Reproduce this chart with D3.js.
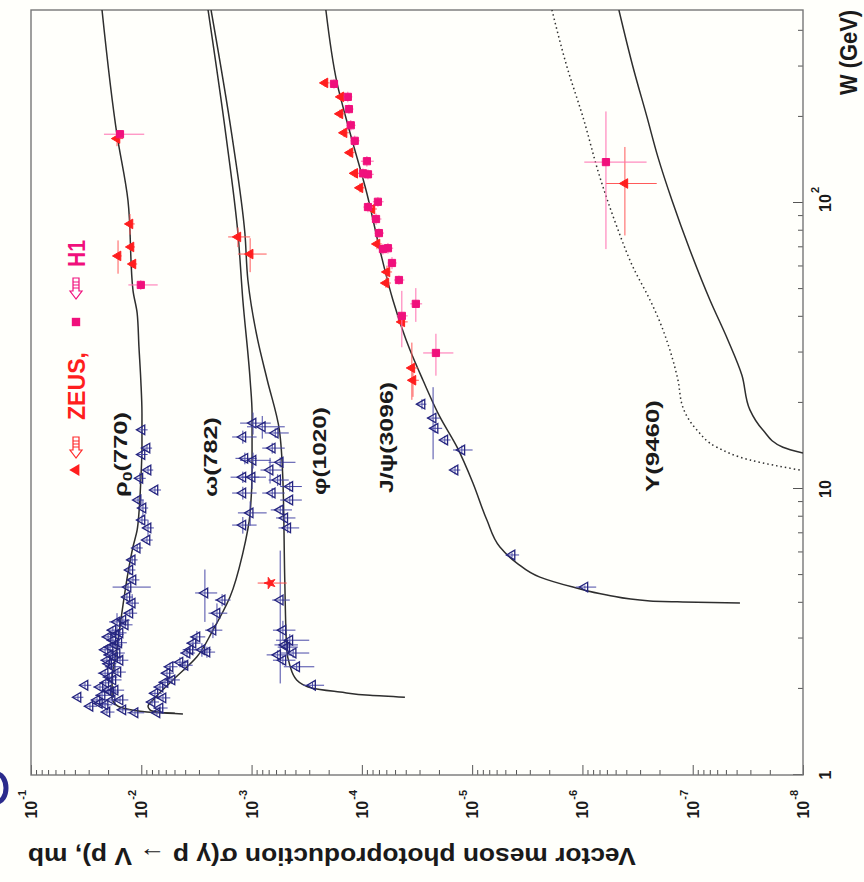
<!DOCTYPE html>
<html><head><meta charset="utf-8">
<script src="https://cdn.jsdelivr.net/npm/d3@7"></script>
<style>body{margin:0;background:#fff}</style></head>
<body><svg id="c" width="864" height="882"></svg>
<script>
// ---------------- data (W in GeV, sigma in mb) ----------------
const wDomain = [1, 473];
const sDomain = [1e-1, 1e-8];
const sMajor = [1e-1,1e-2,1e-3,1e-4,1e-5,1e-6,1e-7,1e-8];
const wMajor = [1, 10, 100];
const sigmaExp = ["-1","-2","-3","-4","-5","-6","-7","-8"];
const curveLabels = ["ρ","ω(782)","φ(1020)","J/ψ(3096)","Υ(9460)"];

const rhoCurve = [[473,0.0227],[173,0.0166],[102,0.0132],[49.6,0.0119],[41.2,0.0109],[31.4,0.0105],[24.0,0.0101],[18.4,0.00986],[14.0,0.00986],[10.75,0.0101],[8.25,0.0105],[7.19,0.0109],[6.27,0.0119],[5.09,0.0132],[3.69,0.0150],[2.80,0.0166],[2.15,0.0184],[1.86,0.0184],[1.74,0.0163],[1.715,0.0147],[1.66,0.00888],[1.645,0.00496]];
const omegaCurve = [[473,0.00248],[173,0.00171],[78.5,0.00133],[45.8,0.00120],[24.0,0.00103],[18.4,0.00099],[11.65,0.00099],[8.25,0.00103],[5.97,0.00120],[4.19,0.00157],[3.21,0.00224],[2.59,0.00313],[2.15,0.00516],[1.83,0.00783],[1.74,0.00869],[1.69,0.00834],[1.655,0.00677],[1.634,0.00419]];
const phiCurve = [[473,0.00233],[173,0.00151],[78.5,0.00115],[53.8,0.00108],[33.2,0.00088],[24.0,0.00072],[16.1,0.00056],[10.75,0.00052],[4.81,0.00050],[2.74,0.00048],[2.42,0.00045],[2.15,0.00039],[2.01,0.00028],[1.95,0.000158],[1.90,8.45e-5],[1.87,4.07e-5]];
const jpsiCurve = [[473,2.12e-4],[263,1.68e-4],[176,1.28e-4],[108,9.0e-5],[68.5,6.86e-5],[45.8,5.23e-5],[30.6,3.66e-5],[24.0,2.79e-5],[17.86,1.96e-5],[14.0,1.37e-5],[10.5,9.84e-6],[7.79,7.35e-6],[6.27,5.6e-6],[5.51,3.93e-6],[4.92,2.43e-6],[4.54,1.22e-6],[4.26,6.0e-7],[4.06,2.44e-7],[4.03,1.23e-7],[3.995,3.73e-8]];
const upsDotted = [[473,1.89e-6],[299,1.38e-6],[200,9.9e-7],[123,6.94e-7],[82.4,4.86e-7],[59.7,3.48e-7],[45.8,2.44e-7],[39.9,2.07e-7],[30.6,1.61e-7],[24.0,1.36e-7],[19.35,1.23e-7],[16.08,9.16e-8],[14.0,6.04e-8],[12.63,3.03e-8],[11.65,1.07e-8]];
const upsSolid = [[473,4.67e-7],[299,3.48e-7],[200,2.6e-7],[145,2.07e-7],[102,1.54e-7],[68.5,1.06e-7],[45.8,6.98e-8],[33.2,4.80e-8],[25.0,3.58e-8],[18.9,3.03e-8],[16.08,2.31e-8],[14.0,1.52e-8],[13.36,1.0e-8]];

// points: [W, sigma, dW, dSigma]
const rhoLow = [[16.1,0.00986,0.5,0.0011],[13.9,0.00888,0.4,0.0009],[13.2,0.00986,0.4,0.0011],[11.65,0.00869,0.4,0.0009],[10.9,0.0103,0.5,0.0012],[9.92,0.00752,0.3,0.0009],[9.15,0.0107,0.3,0.0012],[8.58,0.00966,0.6,0.0010],[7.79,0.00986,0.3,0.0011],[7.31,0.00869,0.5,0.0010],[6.63,0.00888,0.2,0.0010],[6.22,0.0109,0.2,0.0012],[5.65,0.0121,0.2,0.0013],[5.21,0.0127,0.2,0.0014],[4.81,0.0119,0.15,0.0015],[4.54,0.0132,0.15,0.0050],[4.19,0.0135,0.15,0.0016],[3.99,0.0121,0.3,0.0016],[3.68,0.0127,0.12,0.0018],[3.48,0.0147,0.12,0.0020],[3.43,0.0166,0.25,0.0030],[3.21,0.0181,0.1,0.0025],[3.14,0.0156,0.1,0.0020],[3.04,0.0200,0.1,0.0030],[2.96,0.0181,0.1,0.0025],[2.85,0.0173,0.1,0.0025],[2.80,0.0192,0.08,0.0030],[2.74,0.0213,0.08,0.0030],[2.67,0.0166,0.08,0.0025],[2.63,0.0192,0.08,0.0030],[2.52,0.0205,0.07,0.0030],[2.52,0.0156,0.07,0.0025],[2.39,0.0184,0.06,0.0030],[2.29,0.0163,0.06,0.0025],[2.27,0.0213,0.06,0.0035],[2.15,0.0181,0.05,0.0030],[2.06,0.0324,0.04,0.0040],[2.03,0.0237,0.05,0.0035],[1.98,0.0200,0.05,0.0030],[1.98,0.0173,0.05,0.0030],[1.90,0.0227,0.04,0.0035],[1.87,0.0375,0.04,0.0040],[1.83,0.0252,0.04,0.0035],[1.83,0.0156,0.04,0.0025],[1.83,0.0184,0.04,0.0030],[1.76,0.0213,0.04,0.0030],[1.74,0.0292,0.04,0.0040],[1.69,0.0147,0.03,0.0020],[1.66,0.0205,0.03,0.0030],[1.65,0.0114,0.03,0.0020],[3.35,0.0140,0.1,0.0020],[3.10,0.0170,0.1,0.0025],[2.90,0.0160,0.1,0.0025],[2.58,0.0175,0.08,0.0025],[2.45,0.0198,0.07,0.0030],[2.20,0.0195,0.06,0.0030],[2.10,0.0210,0.05,0.0030],[1.95,0.0190,0.05,0.0030],[1.78,0.0240,0.04,0.0035]];
const omegaLow = [[17.0,0.00097,1.5,0.00030],[15.2,0.00120,0.8,0.00030],[12.8,0.00115,0.6,0.00025],[12.6,0.00097,0.8,0.00030],[11.0,0.00120,0.5,0.00035],[11.0,0.00099,1.0,0.00025],[9.68,0.00120,0.5,0.00030],[8.25,0.00103,0.8,0.00030],[7.48,0.00120,0.5,0.00030],[4.33,0.00265,0.9,0.00060],[4.09,0.00185,0.2,0.00030],[3.68,0.00206,0.3,0.00040],[3.21,0.00224,0.2,0.00040],[3.04,0.00313,0.15,0.00050],[2.89,0.00340,0.15,0.00050],[2.74,0.00282,0.15,0.00050],[2.74,0.00362,0.1,0.0006],[2.69,0.00254,0.12,0.00040],[2.67,0.00385,0.1,0.00060],[2.48,0.00446,0.1,0.0007],[2.42,0.00402,0.1,0.0006],[2.39,0.00549,0.08,0.0008],[2.27,0.00585,0.08,0.0008],[2.15,0.00527,0.07,0.0008],[2.11,0.00610,0.06,0.0009],[2.03,0.00677,0.06,0.0010],[1.93,0.00752,0.05,0.0010],[1.86,0.00636,0.05,0.0009],[1.80,0.00800,0.04,0.0011],[1.715,0.00677,0.04,0.0010],[1.65,0.00721,0.03,0.0010]];
const phiLow = [[16.5,0.00080,1.5,0.00030],[15.7,0.00061,0.6,0.00015],[13.9,0.00065,0.6,0.00015],[12.4,0.00055,0.5,0.00015],[11.65,0.00068,1.2,0.00015],[10.75,0.00058,0.5,0.00012],[10.2,0.00045,0.4,0.00010],[9.68,0.00065,0.4,0.00015],[9.15,0.00045,0.3,0.00010],[8.45,0.00055,0.3,0.00012],[7.92,0.00050,0.3,0.00010],[7.31,0.00047,0.3,0.00010],[4.09,0.00055,2.0,0.00010],[3.21,0.00052,0.25,0.00012],[2.96,0.00045,0.15,0.00015],[2.85,0.00050,0.1,0.00012],[2.80,0.00048,0.1,0.00010],[2.67,0.00042,0.1,0.00012],[2.63,0.00058,0.1,0.00015],[2.52,0.00052,0.1,0.00012],[2.39,0.00039,0.08,0.00012],[2.06,0.00028,0.05,0.00006]];
const jpsiLow = [[19.8,2.85e-5,0.8,2.5e-6],[17.7,2.26e-5,5.0,3e-6],[16.3,2.17e-5,0.6,3e-6],[14.84,1.77e-5,0.5,2e-6],[13.69,1.24e-5,0.5,2.5e-6],[11.65,1.43e-5,0.4,1.5e-6],[5.88,4.35e-6,0.1,6e-7],[4.54,9.5e-7,0.06,2e-7]];
const otherRed = [[4.69,0.00068,0.1,0.0002]];

const zeusData = [[168,0.0166,10,0.002],[84.5,0.01266,7,0.0012],[70.2,0.0124,2,0.0010],[61.2,0.0119,2,0.0010],[65.3,0.01625,8.7,0.0012],
  [76.1,0.00133,6,0.0003],[66.3,0.00103,9,0.0003],
  [263,2.16e-4,8,2e-5],[235,1.55e-4,8,1.5e-5],[205,1.58e-4,7,1.5e-5],[176,1.45e-4,6,1.4e-5],[150,1.28e-4,5,1.2e-5],[127,1.16e-4,4,1.1e-5],[113,1.04e-4,4,1e-5],[95.3,8.1e-5,3,8e-6],[71.9,7.29e-5,3,7e-6],[57.4,5.92e-5,3,6e-6],[52.5,6.05e-5,2,6e-6],[38.4,4.34e-5,2,5e-6],[26.5,3.52e-5,6,4e-6],[24.0,3.44e-5,3,4e-6],
  [117,4.12e-7,40,2.0e-7]];
const h1Data = [[174,0.0156,6,0.0062],[51.7,0.0101,2,0.003],
  [261,1.79e-4,10,1.5e-5],[235,1.34e-4,10,1.2e-5],[213,1.31e-4,8,1.2e-5],[187,1.26e-4,8,1.2e-5],[165,1.16e-4,7,1.1e-5],[140,9.0e-5,6,1.2e-5],[127,9.77e-5,5,1e-5],[126,8.8e-5,5,1e-5],[101,7.15e-5,4,8e-6],[96.8,8.8e-5,4,9e-6],[87.9,7.44e-5,4,8e-6],[78.5,7.0e-5,3,7e-6],[69.5,5.8e-5,3,6e-6],[69.0,6.44e-5,3,6e-6],[61.7,5.33e-5,3,5e-6],[53.8,4.61e-5,2,5e-6],[44.4,3.24e-5,6,4e-6],[40.3,4.34e-5,9,5e-6],[29.9,2.13e-5,5,6.5e-6],
  [139,6.12e-7,70,3.5e-7]];

// ---------------- drawing ----------------
const FONT = "'Liberation Sans', Arial, Helvetica, sans-serif";
const svg = d3.select('#c');
svg.append('rect').attr('width',864).attr('height',882).attr('fill','#fffffb');
svg.append('path').attr('d','M -3 774 A 9 14 0 0 1 -3 802').attr('stroke','#2b2b8c').attr('stroke-width',5).attr('fill','none');

const PW = 765, PH = 772;
const g = svg.append('g').attr('transform','translate(31,775) rotate(-90)');
const x = d3.scaleLog().domain(wDomain).range([0, PW]);
const y = d3.scaleLog().domain(sDomain).range([0, PH]);

svg.append('defs').append('clipPath').attr('id','clip').append('rect')
  .attr('x',0).attr('y',0).attr('width',PW).attr('height',PH);

const sMinor = []; for (let k=-8;k<=-2;k++) for (let m=2;m<=9;m++) sMinor.push(m*Math.pow(10,k));
const wMinor = []; for (let k=0;k<=2;k++) for (let m=2;m<=9;m++){ const v=m*Math.pow(10,k); if (v<wDomain[1]) wMinor.push(v); }
function styleAxis(a){ a.select('.domain').remove(); a.selectAll('line').attr('stroke','#555').attr('stroke-width',1); }
g.append('g').call(d3.axisLeft(y).tickValues(sMinor).tickSizeInner(-5).tickSizeOuter(0).tickFormat('')).call(styleAxis);
g.append('g').call(d3.axisLeft(y).tickValues(sMajor).tickSizeInner(-10).tickSizeOuter(0).tickFormat('')).call(styleAxis);
g.append('g').attr('transform',`translate(0,${PH})`).call(d3.axisBottom(x).tickValues(wMinor).tickSizeInner(-5).tickSizeOuter(0).tickFormat('')).call(styleAxis);
g.append('g').attr('transform',`translate(0,${PH})`).call(d3.axisBottom(x).tickValues(wMajor).tickSizeInner(-10).tickSizeOuter(0).tickFormat('')).call(styleAxis);

g.append('rect').attr('x',0).attr('y',0).attr('width',PW).attr('height',PH)
  .attr('fill','none').attr('stroke','#777').attr('stroke-width',1.4);

g.append('g').selectAll('text').data(sMajor).join('text')
  .attr('transform', d => `translate(-15,${y(d)+6})`)
  .attr('text-anchor','end').attr('font-family',FONT).attr('font-weight','bold')
  .attr('font-size',16).attr('fill','#1a1a1a')
  .each(function(d,i){ const t=d3.select(this);
    t.append('tspan').text('10');
    t.append('tspan').attr('dx',1).attr('dy',-11).attr('font-size',11).text(sigmaExp[i]); });

const wl = g.append('g').attr('font-family',FONT).attr('font-weight','bold').attr('fill','#1a1a1a');
wl.selectAll('text.m').data(wMajor).join('text').attr('class','m')
  .attr('x', d => x(d)).attr('y', PH+28).attr('text-anchor','middle').attr('font-size',16)
  .text(d => d===1 ? '1' : '10');
wl.append('text').attr('x', x(100)+10).attr('y', PH+16).attr('font-size',11).text('2');

function addText(parent, x0, y0, parts, opt){
  const t = parent.append('text').attr('x',0).attr('y',0)
    .attr('text-anchor', opt.anchor||'start').attr('font-family',FONT).attr('font-weight','bold')
    .attr('font-size',opt.size).attr('fill',opt.fill||'#1a1a1a');
  parts.forEach(p => { const s=t.append('tspan').text(p.t); if(p.dy) s.attr('dy',p.dy); if(p.dx) s.attr('dx',p.dx); if(p.size) s.attr('font-size',p.size); });
  let sc = 1;
  if (opt.len){ const L=t.node().getComputedTextLength(); if (L>0) sc=opt.len/L; }
  t.attr('transform',`translate(${x0},${y0})${opt.rot!==undefined?` rotate(${opt.rot})`:''} scale(${sc},1)`);
  return t;
}

addText(g, -73, -3, [{t:'Vector meson photoproduction σ(γ p → V p), mb'}], {anchor:'end', rot:-90, size:24, len:608});
addText(g, PW, 826, [{t:'W (GeV)'}], {anchor:'end', size:24, len:85});

const cg = g.append('g').attr('clip-path','url(#clip)');
const line = d3.line().x(d=>x(d[0])).y(d=>y(d[1])).curve(d3.curveMonotoneX);
const srt = a => a.slice().sort((p,q)=>p[0]-q[0]);
[rhoCurve, omegaCurve, phiCurve, jpsiCurve, upsSolid].forEach(c => {
  cg.append('path').attr('d', line(srt(c))).attr('fill','none').attr('stroke','#2e2e2e').attr('stroke-width',1.5);
});
cg.append('path').attr('d', line(srt(upsDotted))).attr('fill','none').attr('stroke','#2e2e2e')
  .attr('stroke-width',1.5).attr('stroke-dasharray','1.5,3');

const pg = g.append('g').attr('clip-path','url(#clip)');
function drawSeries(data, o){
  const s = pg.append('g');
  s.selectAll('line.h').data(data).join('line')
    .attr('x1', d=>x(Math.max(d[0]-d[2],1.001))).attr('x2', d=>x(d[0]+d[2]))
    .attr('y1', d=>y(d[1])).attr('y2', d=>y(d[1]))
    .attr('stroke', o.bar).attr('stroke-width',1);
  s.selectAll('line.v').data(data).join('line')
    .attr('x1', d=>x(d[0])).attr('x2', d=>x(d[0]))
    .attr('y1', d=>y(Math.max(d[1]-d[3], d[1]*0.05))).attr('y2', d=>y(d[1]+d[3]))
    .attr('stroke', o.bar).attr('stroke-width',1);
  s.selectAll('path').data(data).join('path')
    .attr('transform', d=>`translate(${x(d[0])},${y(d[1])})`)
    .attr('d', d3.symbol(o.sym, o.size)())
    .attr('fill', o.fill).attr('stroke', o.stroke).attr('stroke-width', o.sw||1);
}
const blue = {sym:d3.symbolTriangle, size:40, fill:'none', stroke:'#25257f', bar:'#4a4aa8', sw:1.3};
[rhoLow, omegaLow, phiLow, jpsiLow].forEach(d => drawSeries(d, blue));
drawSeries(otherRed, {sym:d3.symbolStar, size:40, fill:'#ff2020', stroke:'#ff2020', bar:'#ff5050'});
drawSeries(zeusData, {sym:d3.symbolTriangle, size:40, fill:'#ff1e1e', stroke:'#ff1e1e', bar:'#ff5a5a'});
drawSeries(h1Data, {sym:d3.symbolSquare, size:52, fill:'#f0107c', stroke:'#f0107c', bar:'#ff6fb0'});

addText(g, 278, 96, [{t:'ρ'},{t:'0',dy:5,size:13},{t:'(770)',dy:-5}], {size:19, len:85});
addText(g, 278, 186, [{t:curveLabels[1]}], {size:19, len:80});
addText(g, 280, 295, [{t:curveLabels[2]}], {size:19, len:88});
addText(g, 282, 362, [{t:curveLabels[3]}], {size:19, len:111});
addText(g, 283, 628, [{t:curveLabels[4]}], {size:19, len:92});

function arrow(tipX, cy, col){
  const a = g.append('g').attr('stroke',col).attr('fill','#fff').attr('stroke-width',1.2);
  a.append('path').attr('d',`M${tipX},${cy} L${tipX+8},${cy-6} L${tipX+8},${cy-3} L${tipX+21},${cy-3} L${tipX+21},${cy+3} L${tipX+8},${cy+3} L${tipX+8},${cy+6} Z`);
  [11,14,17].forEach(dx => a.append('line').attr('x1',tipX+dx).attr('x2',tipX+dx).attr('y1',cy-3).attr('y2',cy+3).attr('stroke-width',1));
}
g.append('path').attr('transform','translate(305,45)').attr('d', d3.symbol(d3.symbolTriangle, 60)()).attr('fill','#ff1e1e');
arrow(317, 45, '#ff2a2a');
addText(g, 355, 54, [{t:'ZEUS,'}], {size:24, len:68, fill:'#ff1e1e'});
g.append('path').attr('transform','translate(453,45)').attr('d', d3.symbol(d3.symbolSquare, 70)()).attr('fill','#f0107c');
arrow(476, 45, '#f0107c');
addText(g, 508, 54, [{t:'H1'}], {size:24, len:27, fill:'#f0107c'});
</script></body></html>
